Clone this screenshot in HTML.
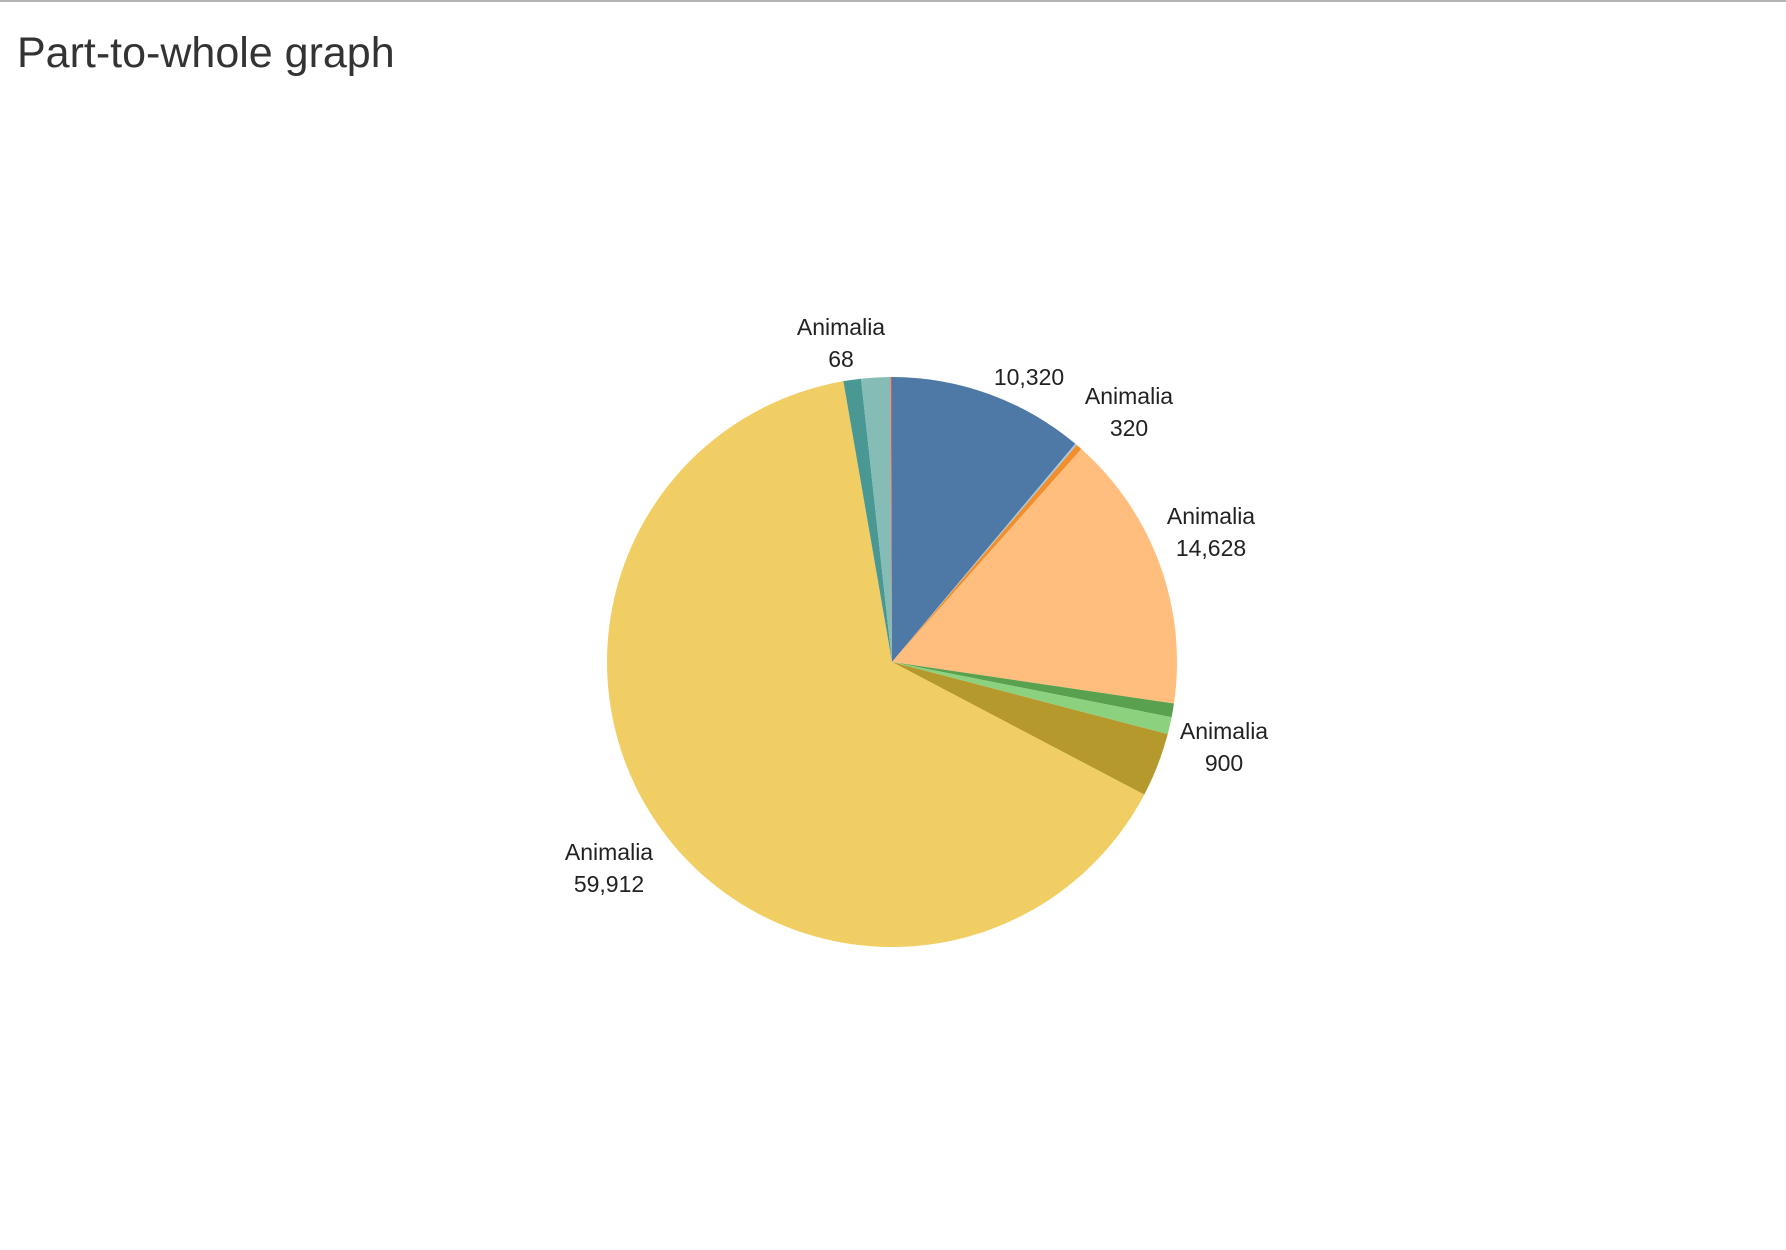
<!DOCTYPE html>
<html><head><meta charset="utf-8"><style>
body{margin:0;width:1786px;height:1250px;background:#fff;overflow:hidden;font-family:"Liberation Sans",sans-serif;}
#topline{position:absolute;left:0;top:0;width:1786px;height:2px;background:#b4b4b4;}
#title{position:absolute;left:17px;top:29px;font-size:43px;color:#333;}
</style></head><body>
<div id="topline"></div>
<div id="title">Part-to-whole graph</div>
<svg id="chart" width="1786" height="1250" style="position:absolute;left:0;top:0"></svg>
<script>
const categories=["blue","lightblue","orange","lightorange","darkgreen","lightgreen","olive","yellow","teal","lightteal","red"];
const values=[10320,90,320,14628,720,900,3370,59912,925,1540,68];
const colors=["#4e79a7","#a0cbe8","#f28e2b","#ffbe7d","#59a14f","#8cd17d","#b6992d","#f1ce63","#499894","#86bcb6","#e15759"];
const labelIdx=[10,0,2,3,5,7];
const labelShowName=[true,false,true,true,true,true];
const labelPos=[[841,335],[1029,385],[1129,404],[1211,524],[1224,739],[609,860]];
const cx=892,cy=662,R=285;
const svg=document.getElementById('chart');
const NS='http://www.w3.org/2000/svg';
const total=values.reduce((a,b)=>a+b,0);
function pt(a,r){return [cx+r*Math.sin(a),cy-r*Math.cos(a)];}
let acc=0;
values.forEach((v,i)=>{
  const a0=acc/total*2*Math.PI; acc+=v; const a1=acc/total*2*Math.PI;
  const p0=pt(a0,R),p1=pt(a1,R);
  const large=(a1-a0)>Math.PI?1:0;
  const p=document.createElementNS(NS,'path');
  p.setAttribute('d',`M${cx},${cy}L${p0[0]},${p0[1]}A${R},${R} 0 ${large} 1 ${p1[0]},${p1[1]}Z`);
  p.setAttribute('fill',colors[i]);
  
  
  svg.appendChild(p);
});
labelIdx.forEach((idx,k)=>{
  const [x,y]=labelPos[k];
  const t=document.createElementNS(NS,'text');
  t.setAttribute('x',x);t.setAttribute('y',y);
  t.setAttribute('text-anchor','middle');
  t.setAttribute('font-size','23');t.setAttribute('fill','#222');
  t.setAttribute('font-family','Liberation Sans, sans-serif');
  
  
  const val=values[idx].toLocaleString('en-US');
  if(labelShowName[k]){
    const s1=document.createElementNS(NS,'tspan');s1.setAttribute('x',x);s1.setAttribute('dy','0');s1.textContent='Animalia';
    const s2=document.createElementNS(NS,'tspan');s2.setAttribute('x',x);s2.setAttribute('dy','32');s2.textContent=val;
    t.appendChild(s1);t.appendChild(s2);
  } else t.textContent=val;
  svg.appendChild(t);
});
</script>
</body></html>
